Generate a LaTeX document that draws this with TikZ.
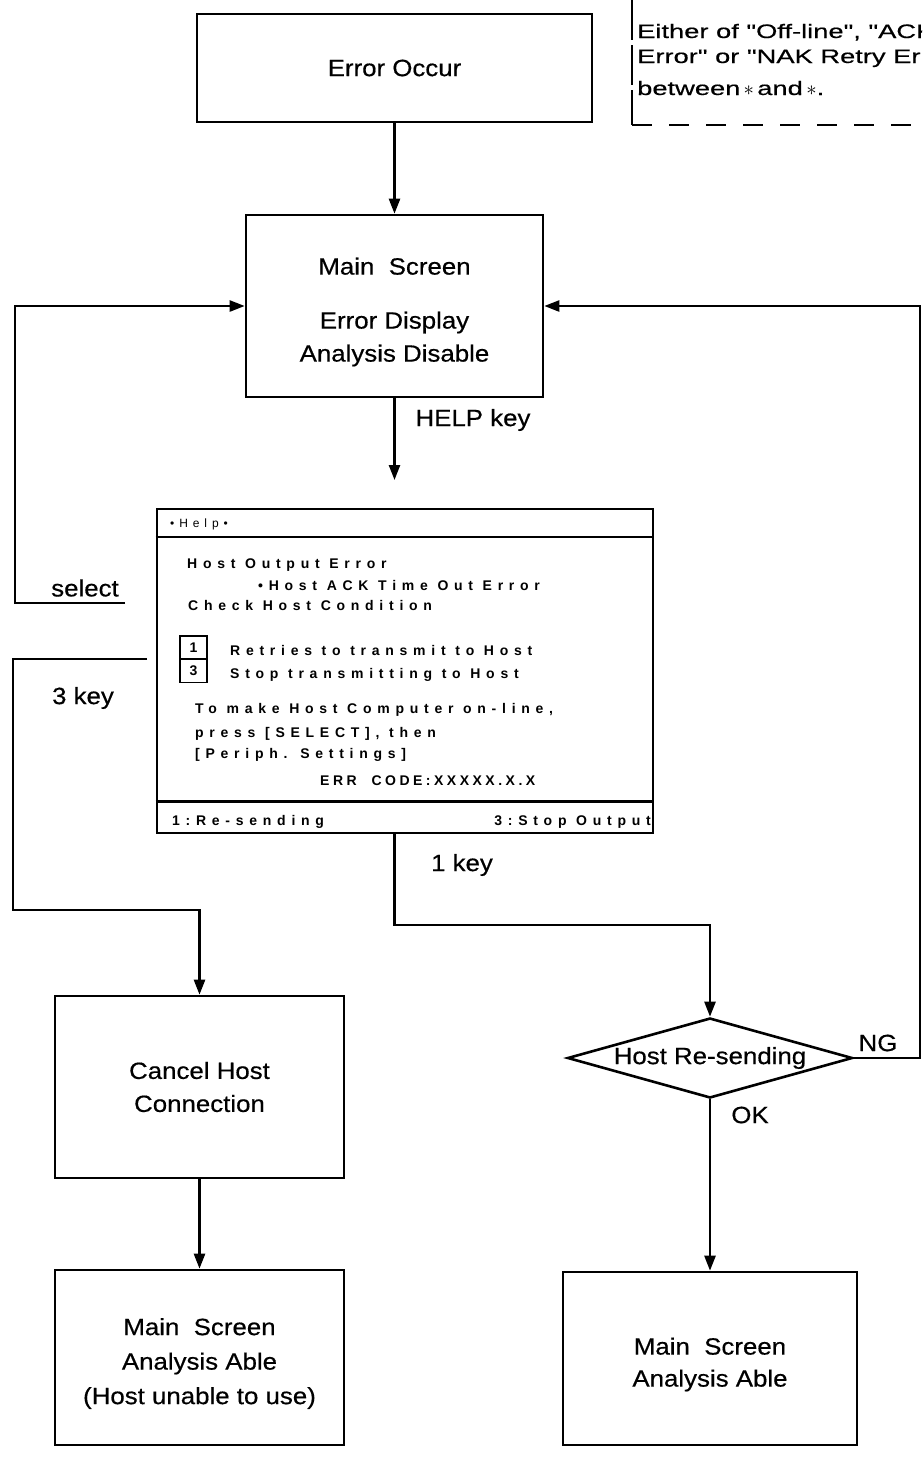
\documentclass[tikz,border=0pt]{standalone}
\usepackage{fontspec}
\setmainfont[FakeStretch=1.1, FakeBold=0.5]{Liberation Sans}
\newfontfamily\notefont[FakeStretch=1.4, FakeBold=0.5]{Liberation Sans}
\newfontfamily\lcdfont[LetterSpace=41]{Liberation Sans}
\usetikzlibrary{arrows.meta, positioning, shapes.geometric}

\tikzset{
  flowbox/.style={draw, line width=2.6pt, align=center, inner sep=0pt,
    font=\fontsize{23.5}{33}\selectfont},
  boxtext/.style={align=center, inner sep=0pt, font=\fontsize{23.5}{34.5}\selectfont},
  flowline/.style={line width=2.4pt},
  flowarrow/.style={flowline, -{Triangle[length=15pt,width=11pt]}},
  keylabel/.style={font=\fontsize{23.5}{28}\selectfont, inner sep=0pt},
  lcdtext/.style={font=\lcdfont\bfseries\fontsize{14}{16}\selectfont,
    anchor=base west, inner sep=0pt},
  keybox/.style={draw, line width=1.8pt, minimum width=27pt, minimum height=23pt,
    inner sep=0pt, font=\lcdfont\bfseries\fontsize{14}{16}\selectfont},
  notetext/.style={font=\notefont\fontsize{19.5}{24}\selectfont,
    anchor=base west, inner sep=0pt},
  notedash/.style={line width=2.2pt, dash pattern=on 20pt off 17pt},
}

\begin{document}
\begin{tikzpicture}[x=1pt, y=-1pt]
\path[use as bounding box] (0,0) rectangle (922,1460);

\coordinate (helpin) at (394.5,480);
\coordinate (selstart) at (125,603);
\coordinate (selfar) at (15,603);
\coordinate (k3start) at (147,659);
\coordinate (k3turn) at (13,910);
\coordinate (k1turn) at (710,925);
\coordinate (ngx) at (920,0);

\node[flowbox, minimum width=395pt, minimum height=108pt] (occur) at (394.5,68) {Error Occur};
\node[flowbox, minimum width=297pt, minimum height=182pt] (main) at (394.5,306) {};
\node[boxtext, font=\fontsize{23.5}{33}\selectfont] (maintext) at ([yshift=-6pt]main.center)
  {Main\ \ Screen\\[21pt]Error Display\\Analysis Disable};
\node[flowbox, minimum width=289pt, minimum height=182pt] (cancel) at (199.5,1087)
  {Cancel Host\\Connection};
\node[flowbox, minimum width=289pt, minimum height=175pt] (unable) at (199.5,1357.5) {};
\node[boxtext] (unabletext) at ([yshift=-6pt]unable.center)
  {Main\ \ Screen\\Analysis Able\\(Host unable to use)};
\node[flowbox, minimum width=294pt, minimum height=173pt] (able) at (710,1358.5) {};
\node[boxtext, font=\fontsize{23.5}{32}\selectfont] (abletext) at ([yshift=-6pt]able.center)
  {Main\ \ Screen\\Analysis Able};
\node[flowbox, diamond, aspect=3.56, minimum width=285pt, minimum height=80pt] (check)
  at (710,1058) {Host Re-sending};

% help screen
\node[draw, line width=2.6pt, minimum width=496pt, minimum height=324pt, inner sep=0pt]
  (help) at (405,671) {};
\draw[line width=2.4pt] (help.north west) ++(0,29) coordinate (titlebar) -- (titlebar -| help.east);
\draw[line width=2.4pt] (help.south west) ++(0,-33) coordinate (menubar) -- (menubar -| help.east);
\node[lcdtext, font=\lcdfont\fontsize{12}{14}\selectfont] (title) at (170,527) {\textbullet Help\textbullet};
\node[lcdtext] (l1) at (187,568) {Host Output Error};
\node[lcdtext] (l2) at (258,590) {\textbullet Host ACK Time Out Error};
\node[lcdtext] (l3) at (188,610) {Check Host Condition};
\node[keybox] (k1box) at (193.5,647.5) {1};
\node[keybox] (k3box) at (193.5,671) {3};
\node[lcdtext] (l4) at (230,655) {Retries to transmit to Host};
\node[lcdtext] (l5) at (230,678) {Stop transmitting to Host};
\node[lcdtext] (l6) at (195,713) {To make Host Computer on-line,};
\node[lcdtext] (l7) at (195,737) {press [SELECT], then};
\node[lcdtext] (l8) at (195,758) {[Periph. Settings]};
\node[lcdtext, font=\lcdfont\bfseries\fontsize{14}{16}\selectfont\addfontfeature{LetterSpace=25}]
  (l9) at (320,785) {ERR\ \ CODE:XXXXX.X.X};
\node[lcdtext] (m1) at (172,825) {1:Re-sending};
\node[lcdtext, anchor=base east] (m3) at (651,825) {3:Stop Output};

% note
\begin{scope}
\clip (0,0) rectangle (922,1460);
\draw[notedash, dash pattern=on 40pt off 5pt] (632,0) -- (632,125);
\draw[notedash] (632,125) -- (940,125);
\node[notetext] (note1) at (637,38) {Either of "Off-line", "ACK Time Out};
\node[notetext] (note2) at (637,63) {Error" or "NAK Retry Error" is displayed};
\node[notetext] (note3) at (637,95) {between\,$*$\,and$\,*$.};
\end{scope}

% connectors
\draw[flowarrow] (occur) -- (main);
\draw[flowarrow] (main) -- (helpin);
\node[keylabel] (helpkey) at (473,420) {HELP key};
\draw[flowarrow] (selstart) -- (selfar) |- (main.west);
\node[keylabel] (selectlbl) at (85,588) {select};
\draw[flowarrow] (k3start) -| (k3turn) -| (cancel.north);
\node[keylabel] (key3) at (83,698) {3 key};
\draw[flowarrow] (help.south -| main.south) |- (k1turn) -- (check.north);
\node[keylabel] (key1) at (462,865) {1 key};
\draw[flowarrow] (check.east) -- (check.east -| ngx) |- (main.east);
\node[keylabel] (nglbl) at (878,1043) {NG};
\draw[flowarrow] (check.south) -- (able.north);
\node[keylabel] (oklbl) at (750,1115) {OK};
\draw[flowarrow] (cancel) -- (unable);
\end{tikzpicture}
\end{document}
